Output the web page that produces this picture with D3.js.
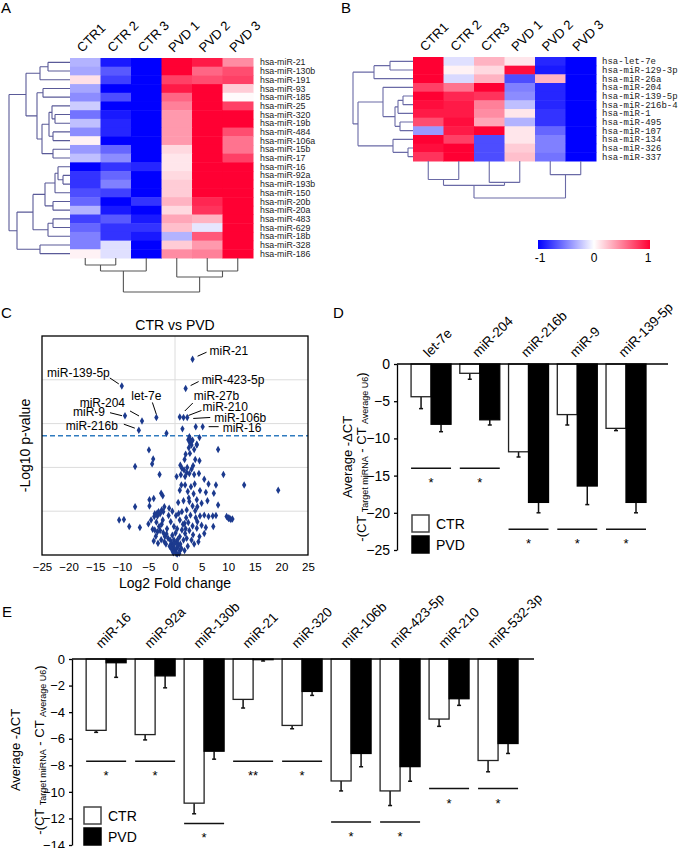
<!DOCTYPE html>
<html><head><meta charset="utf-8">
<script src="https://cdn.jsdelivr.net/npm/d3@7"></script>
<style>body{margin:0;background:#fff}svg{display:block}text{font-family:"Liberation Sans",Arial,sans-serif}</style>
</head><body>
<svg id="c" width="680" height="848"></svg>
<script>
// ---------------- DATA ----------------
const heatACols = ["CTR1","CTR 2","CTR 3","PVD 1","PVD 2","PVD 3"];
const heatARows = ["hsa-miR-21","hsa-miR-130b","hsa-miR-191","hsa-miR-93","hsa-miR-185","hsa-miR-25","hsa-miR-320","hsa-miR-19b","hsa-miR-484","hsa-miR-106a","hsa-miR-15b","hsa-miR-17","hsa-miR-16","hsa-miR-92a","hsa-miR-193b","hsa-miR-150","hsa-miR-20b","hsa-miR-20a","hsa-miR-483","hsa-miR-629","hsa-miR-18b","hsa-miR-328","hsa-miR-186"];
const heatAValues = [
 [-0.3,-0.9,-1,1,0.9,0.45],[-0.35,-0.65,-1,1,0.6,0.7],[0.12,-0.75,-1,0.75,0.7,0.75],[-0.35,-1,-1,0.9,1,0.2],
 [-0.45,-0.7,-1,0.6,1,0.02],[-0.2,-1,-1,0.5,1,0.75],[-0.55,-0.9,-1,0.4,1,1],[-0.25,-0.85,-1,0.4,1,1],
 [-0.45,-0.85,-1,0.4,1,0.7],[0.05,-1,-1,0.4,1,0.55],[-0.4,-0.6,-1,0.15,1,0.55],[-0.25,-0.45,-1,0.1,1,0.75],
 [-1,-0.8,-0.85,0.1,1,1],[-0.8,-0.6,-1,0.15,1,1],[-0.8,-0.5,-1,0.2,1,1],[-0.7,-0.75,-1,0.2,1,1],
 [-0.6,-1,-0.8,0.3,0.85,1],[-0.3,-0.9,-1,0.15,0.8,1],[-0.75,-0.65,-0.9,0.35,0.3,1],[-0.6,-0.8,-0.8,0.25,-0.1,1],
 [-0.5,-0.8,-0.9,-0.3,0.65,1],[-0.5,-0.12,-1,0.2,0.4,1],[0.05,-0.12,-1,0.45,0.5,1]];
// dendrograms: {h: merge height, c: children}, leaves are row/column indices
const heatARowTree = {h:61,c:[
  {h:44,c:[{h:30,c:[{h:22,c:[0,1]},2]},
           {h:33,c:[{h:27,c:[3,4]},{h:28,c:[{h:21,c:[{h:18,c:[5,{h:15,c:[6,7]}]},{h:17,c:[8,9]}]},{h:17,c:[10,11]}]}]}]},
  {h:53,c:[{h:37,c:[{h:25,c:[{h:15,c:[{h:12,c:[12,{h:7,c:[13,14]}]},15]},{h:17,c:[16,17]}]},{h:22,c:[{h:17,c:[18,19]},20]}]},
           {h:30,c:[21,22]}]}]};
const heatAColTree = {h:34,c:[{h:13,c:[{h:7,c:[0,1]},2]},{h:19,c:[3,{h:13,c:[4,5]}]}]};

const heatBCols = ["CTR1","CTR 2","CTR3","PVD 1","PVD 2","PVD 3"];
const heatBRows = ["hsa-let-7e","hsa-miR-129-3p","hsa-miR-26a","hsa-miR-204","hsa-miR-139-5p","hsa-miR-216b-4","hsa-miR-1","hsa-miR-495","hsa-miR-107","hsa-miR-134","hsa-miR-326","hsa-miR-337"];
const heatBValues = [
 [1,-0.12,0.3,0.1,-0.85,-1],[1,0.05,0.15,0.95,-0.9,-1],[1,-0.15,0.3,-0.7,0.3,-1],[0.75,0.55,1,-0.5,-0.85,-1],
 [1,0.85,0.8,-0.45,-0.85,-1],[0.95,0.9,0.5,-0.25,-0.85,-1],[0.9,0.9,0.45,0.1,-0.8,-1],[0.7,0.95,0.35,-0.3,-0.8,-1],
 [-0.4,0.9,1,0.1,-0.6,-1],[1,0.75,-0.7,0.1,-0.5,-1],[0.95,1,-0.7,0.2,-0.5,-1],[0.8,1,-0.7,0.25,-0.55,-1]];
const heatBRowTree = {h:60,c:[{h:39,c:[{h:23,c:[0,1]},2]},
  {h:55,c:[{h:30,c:[3,{h:18,c:[{h:15,c:[{h:10,c:[4,5]},6]},{h:13,c:[7,8]}]}]},{h:20,c:[9,{h:5,c:[10,11]}]}]}]};
const heatBColTree = {h:38,c:[{h:25,c:[{h:19,c:[0,1]},{h:22,c:[2,3]}]},{h:14,c:[4,5]}]};
const legendTicks = [-1,0,1];

// Volcano: [log2 fold change, -log10 p]
const volcanoPoints = [
 [-1.6,2.78],[1.4,2.88],[4.6,2.68],[2.5,2.63],[2.8,2.56],[3.1,2.59],[4.1,2.53],[2.9,2.63],[3.1,2.51],[2.8,2.32],[3.6,2.41],[4.1,2.51],
 [-4.9,2.40],[-4.1,2.19],[-4.3,2.08],[-7.5,2.02],[-2.9,1.84],[8.1,2.41],[9.1,1.84],[13.0,1.60],[19.4,1.48],[-7.5,1.10],
 [-10.5,0.80],[-9.6,0.81],[-8.6,0.65],[-6.6,0.63],[-4.8,1.12],[-4.8,1.26],[-4.0,1.29],[-2.6,1.41],[-2.3,1.35],[-2.0,1.10],[-5.0,0.71],
 [-3.9,0.88],[-3.4,0.95],[-3.1,0.99],[-2.5,1.03],[-2.2,0.99],[-3.8,0.94],[-3.3,0.89],[-2.8,0.94],[-1.1,1.07],[-0.8,0.76],
 [-4.2,0.59],[-3.8,0.57],[-3.3,0.53],[-2.8,0.56],[-2.2,0.51],[-1.6,0.48],[-1.9,0.42],[-1.3,0.38],[-0.9,0.34],[-3.6,0.43],
 [-0.6,0.27],[-0.3,0.19],[0,0.11],[0.3,0.15],[-0.4,0.08],[-0.2,0.34],[0.6,0.23],[-0.8,0.19],
 [1.8,2.18],[3.8,2.18],[4.6,2.15],[1.3,1.98],[1.7,1.94],[2.2,1.88],[3.4,2.04],[3.1,1.96],
 [0.3,1.79],[1.1,1.83],[1.9,1.79],[2.7,1.86],[3.6,1.84],[4.5,1.86],[5.5,1.73],[6.3,1.62],[7.7,1.60],
 [0.9,1.48],[1.9,1.60],[2.4,1.45],[3.0,1.56],[3.7,1.62],[4.7,1.47],[5.8,1.43],[7.3,1.41],
 [1.6,1.24],[2.7,1.22],[3.3,1.12],[4.1,1.26],[5.0,1.18],[6.1,1.24],[8.1,1.14],
 [1.3,0.99],[2.2,1.03],[2.9,0.91],[3.8,1.01],[4.7,0.89],[5.5,0.91],[6.3,0.88],[7.1,0.89],[7.7,0.90],
 [9.7,0.88],[10.1,0.83],[10.5,0.81],[10.8,0.82],[10.0,0.85],[10.3,0.84],
 [0.9,0.80],[1.8,0.72],[2.5,0.74],[3.3,0.66],[4.2,0.76],[5.0,0.68],[5.8,0.63],[7.2,0.65],[4.1,0.61],
 [1.3,0.57],[1.9,0.49],[2.7,0.56],[3.4,0.46],[4.6,0.42],[5.5,0.49],[3.1,0.34],[2.2,0.38],[1.6,0.34],[0.9,0.42],
 [0.3,0.30],[0.6,0.21],[0.9,0.11],[0.2,0.04],[-0.3,0.05],[0.8,0.04],
 [0.1,0.5],[0.4,0.6],[-0.5,0.45],[0.2,0.9],[0.7,0.95],[-0.2,0.65],[0.5,0.35],[1.0,0.25],[-0.7,0.15],[0.4,0.02],
 [-0.1,0.25],[1.2,0.15],[1.5,0.7],[2.0,0.6],[2.4,0.2],[1.8,0.1],[3.6,0.25],[4.4,0.3],[2.6,1.3],[3.5,1.4],
 [1.2,1.6],[0.6,1.2],[1.0,2.05],[2.0,2.3],[2.3,2.0],[4.2,1.1],[3.9,0.85],[2.1,0.85],[-1.5,0.6],[-2.5,0.7],
 [-3.0,0.65],[-1.2,0.9],[-0.5,1.0],[-2.0,0.3],[-1.0,0.2],[-4.5,0.8],[-3.5,0.75],[-2.3,0.8],[-1.7,0.25],[-2.6,0.35],
 [-3.2,0.27],[-4.0,0.32],[2.6,2.45],[2.7,2.7],[3.3,2.62]];
const volcanoLabelled = [
 {name:"miR-21",x:3.3,y:4.47},{name:"miR-423-5p",x:2.0,y:3.80},{name:"miR-139-5p",x:-10.0,y:3.86},
 {name:"let-7e",x:-3.5,y:3.14},{name:"miR-204",x:-6.2,y:3.06},{name:"miR-9",x:-9.4,y:3.18},
 {name:"miR-216b",x:-6.8,y:2.85},{name:"miR-27b",x:0.9,y:3.15},{name:"miR-210",x:1.6,y:3.14},
 {name:"miR-106b",x:2.3,y:3.14},{name:"miR-16",x:5.2,y:2.93}];
const extraSig = [[3.9,2.93]];
const volcanoThreshold = 2.72;
const volcanoXTicks = [-25,-20,-15,-10,-5,0,5,10,15,20,25];
const volcanoGrid = [1,2,3,4];

const dCats = ["let-7e","miR-204","miR-216b","miR-9","miR-139-5p"];
const dCTR = [-4.4,-1.25,-11.8,-6.8,-8.65];
const dCTRErr = [1.6,0.8,0.7,1.4,0.3];
const dPVD = [-8.1,-7.5,-18.6,-16.4,-18.6];
const dPVDErr = [1.0,0.7,1.4,2.5,1.4];
const dSig = [-14,-14,-22.2,-22.2,-22.2];
const dSigMark = ["*","*","*","*","*"];
const dTicks = [0,-5,-10,-15,-20,-25];

const eCats = ["miR-16","miR-92a","miR-130b","miR-21","miR-320","miR-106b","miR-423-5p","miR-210","miR-532-3p"];
const eCTR = [-5.37,-5.69,-10.85,-3.04,-5.0,-9.18,-9.93,-4.52,-7.64];
const eCTRErr = [0.15,0.4,0.8,0.65,0.25,0.75,1.1,0.55,0.85];
const ePVD = [-0.28,-1.27,-6.94,-0.05,-2.44,-7.11,-8.1,-2.99,-6.36];
const ePVDErr = [1.1,0.9,0.6,0.1,0.3,1.0,1.1,0.5,0.75];
const eSig = [-7.7,-7.7,-12.38,-7.7,-7.7,-12.26,-12.26,-9.75,-9.75];
const eSigMark = ["*","*","*","**","*","*","*","*","*"];
const eTicks = [0,-2,-4,-6,-8,-10,-12,-14];

// ---------------- DRAW ----------------
const svg = d3.select("#c");
const FONT = '"Liberation Sans",Arial,sans-serif';
const MONO = '"Liberation Mono","Courier New",monospace';
const color = d3.scaleLinear().domain([-1,0,1]).range(["#0000ff","#ffffff","#ff0033"]);

function panelLabel(t,x,y){svg.append("text").attr("x",x).attr("y",y).attr("font-size",15).text(t);}
panelLabel("A",1,13);panelLabel("B",341,13);panelLabel("C",1,318);panelLabel("D",333,318);panelLabel("E",2,617);

function heatmap(o){
  const g = svg.append("g");
  const x = d3.scaleBand().domain(d3.range(o.cols.length)).range(o.xr);
  const y = d3.scaleBand().domain(d3.range(o.rows.length)).range(o.yr);
  o.vals.forEach((row,i)=>row.forEach((v,j)=>{
    g.append("rect").attr("x",x(j)).attr("y",y(i)).attr("width",x.bandwidth()+0.5).attr("height",y.bandwidth()+0.5).attr("fill",color(v));
  }));
  o.rows.forEach((r,i)=>g.append("text").attr("x",o.xr[1]+o.labGap).attr("y",y(i)+y.bandwidth()/2).attr("dy","0.35em")
     .attr("font-size",o.rowFont).style("font-family",o.rowFamily).attr("fill","#222").text(r));
  o.cols.forEach((c,j)=>g.append("text").attr("transform",`translate(${x(j)+x.bandwidth()/2-3},${o.yr[0]-5}) rotate(-45)`)
     .attr("font-size",13).text(c));
  drawTree(g,o.rowTree,i=>y(i)+y.bandwidth()/2,d3.scaleLinear().domain([0,o.rowTree.h]).range([o.xr[0],o.rowDendroX]),true,o.rowStroke);
  drawTree(g,o.colTree,j=>x(j)+x.bandwidth()/2,d3.scaleLinear().domain([0,o.colTree.h]).range([o.yr[1],o.colDendroY]),false,o.colStroke);
}
function drawTree(g,tree,posOf,hs,horiz,stroke){
  const root = d3.hierarchy(tree,d=>typeof d==="number"?null:d.c);
  root.eachAfter(n=>{
    if(!n.children){n.pos=posOf(n.data);n.hh=0;}
    else{n.pos=(n.children[0].pos+n.children[n.children.length-1].pos)/2;n.hh=n.data.h;}
  });
  const P=(h,p)=>horiz?[hs(h),p]:[p,hs(h)];
  let d="";
  root.each(n=>{
    if(!n.children)return;
    const a=P(n.hh,n.children[0].pos),b=P(n.hh,n.children[n.children.length-1].pos);
    d+=`M${a}L${b}`;
    n.children.forEach(c=>{const s=P(n.hh,c.pos),e=P(c.hh,c.pos);d+=`M${s}L${e}`;});
  });
  g.append("path").attr("d",d).attr("fill","none").attr("stroke",stroke).attr("stroke-width",1.1);
}
heatmap({cols:heatACols,rows:heatARows,vals:heatAValues,xr:[70,253],yr:[58,258],labGap:7,rowFont:8.8,rowFamily:FONT,
  rowTree:heatARowTree,colTree:heatAColTree,rowDendroX:9,colDendroY:292,rowStroke:"#5a5a98",colStroke:"#555"});
heatmap({cols:heatBCols,rows:heatBRows,vals:heatBValues,xr:[413,596],yr:[57,161],labGap:6,rowFont:9,rowFamily:MONO,
  rowTree:heatBRowTree,colTree:heatBColTree,rowDendroX:353,colDendroY:198,rowStroke:"#6a6aa6",colStroke:"#6a6aa6"});

// color legend
{
  const defs=svg.append("defs");
  const gr=defs.append("linearGradient").attr("id","lg");
  d3.range(0,1.01,0.1).forEach(t=>gr.append("stop").attr("offset",t).attr("stop-color",color(-1+2*t)));
  const lx=d3.scaleLinear().domain([-1,1]).range([538,650]);
  svg.append("rect").attr("x",lx(-1)).attr("y",240).attr("width",lx(1)-lx(-1)).attr("height",9).attr("fill","url(#lg)");
  legendTicks.forEach(t=>svg.append("text").attr("x",lx(t)+(t===-1?2:(t===1?-2:0))).attr("y",262).attr("text-anchor","middle").attr("font-size",12).text(t));
}

// ---------------- Volcano ----------------
{
  const g=svg.append("g");
  const x=d3.scaleLinear().domain([-25,25]).range([42,308]);
  const y=d3.scaleLinear().domain([0,5]).range([555,336]);
  volcanoGrid.forEach(v=>g.append("line").attr("x1",x(-25)).attr("x2",x(25)).attr("y1",y(v)).attr("y2",y(v)).attr("stroke","#dcdcdc").attr("stroke-width",1));
  g.append("line").attr("x1",x(0)).attr("x2",x(0)).attr("y1",y(0)).attr("y2",y(5)).attr("stroke","#dcdcdc");
  g.append("line").attr("x1",x(-25)).attr("x2",x(25)).attr("y1",y(volcanoThreshold)).attr("y2",y(volcanoThreshold))
   .attr("stroke","#2f7bbf").attr("stroke-width",1.5).attr("stroke-dasharray","5,3");
  const sym=d3.symbol().type(d3.symbolDiamond).size(16);
  const all=volcanoPoints.concat(extraSig).concat(volcanoLabelled.map(d=>[d.x,d.y]));
  g.selectAll(".pt").data(all).enter().append("path").attr("d",sym).attr("transform",d=>`translate(${x(d[0])},${y(d[1])})`).attr("fill","#1c3a8e");
  g.append("rect").attr("x",x(-25)).attr("y",y(5)).attr("width",x(25)-x(-25)).attr("height",y(0)-y(5)).attr("fill","none").attr("stroke","#000").attr("stroke-width",1.3);
  const ax=g.append("g").attr("transform",`translate(0,${y(0)})`).call(d3.axisBottom(x).tickValues(volcanoXTicks).tickSize(0).tickPadding(8));
  ax.select(".domain").remove();
  ax.selectAll("text").attr("font-size",11.5).attr("fill","#000");
  g.append("text").attr("x",x(0)).attr("y",330).attr("text-anchor","middle").attr("font-size",14).text("CTR vs PVD");
  g.append("text").attr("x",x(0)).attr("y",588).attr("text-anchor","middle").attr("font-size",14).text("Log2 Fold change");
  g.append("text").attr("transform",`translate(30,${y(2.5)}) rotate(-90)`).attr("text-anchor","middle").attr("font-size",14).text("-Log10 p-value");
  const ann={
    "miR-21":{tx:17,ty:-8,a:"start",l:[5,-3,14,-7]},
    "miR-423-5p":{tx:16,ty:-9,a:"start",l:[5,-3,13,-7]},
    "miR-139-5p":{tx:-12,ty:-13,a:"end",l:[-12,-8,-3,-2]},
    "let-7e":{tx:-10,ty:-22,a:"middle",l:[-4,-15,0,-3]},
    "miR-204":{tx:-17,ty:-18,a:"end",l:[-12,-10,-3,-5]},
    "miR-9":{tx:-20,ty:-4,a:"end",l:[-15,-3,-3,0]},
    "miR-216b":{tx:-21,ty:-4,a:"end",l:[-15,-6,-4,-2]},
    "miR-27b":{tx:14,ty:-21,a:"start",l:[13,-14,5,-6]},
    "miR-210":{tx:19,ty:-11,a:"start",l:[18,-7,5,-2]},
    "miR-106b":{tx:27,ty:0,a:"start",l:[23,0,6,1]},
    "miR-16":{tx:20,ty:1,a:"start",l:[6,0,16,0]}};
  volcanoLabelled.forEach(d=>{
    const p=[x(d.x),y(d.y)],o=ann[d.name];
    g.append("line").attr("x1",p[0]+o.l[0]).attr("y1",p[1]+o.l[1]).attr("x2",p[0]+o.l[2]).attr("y2",p[1]+o.l[3]).attr("stroke","#000").attr("stroke-width",1);
    g.append("text").attr("x",p[0]+o.tx).attr("y",p[1]+o.ty).attr("dy","0.35em").attr("text-anchor",o.a).attr("font-size",12).text(d.name);
  });
}

// ---------------- Bar panels ----------------
function barPanel(o){
  const g=svg.append("g");
  const x=d3.scaleBand().domain(o.cats).range(o.xr).paddingInner(o.pi).paddingOuter(o.po).align(o.al);
  const y=d3.scaleLinear().domain(o.yd).range(o.yr);
  const half=x.bandwidth()/2;
  o.cats.forEach((c,i)=>{
    const bx=x(c);
    [[o.ctr[i],o.ctrErr[i],bx,"#fff"],[o.pvd[i],o.pvdErr[i],bx+half,"#000"]].forEach(([v,e,xx,f])=>{
      const cx=xx+half/2;
      g.append("line").attr("x1",cx).attr("x2",cx).attr("y1",y(v)).attr("y2",y(v-e)).attr("stroke","#111").attr("stroke-width",1.5);
      g.append("line").attr("x1",cx-2).attr("x2",cx+2).attr("y1",y(v-e)).attr("y2",y(v-e)).attr("stroke","#111").attr("stroke-width",1.5);
      g.append("rect").attr("x",xx).attr("y",y(0)).attr("width",half).attr("height",y(v)-y(0)).attr("fill",f).attr("stroke",f==="#fff"?"#222":"#000").attr("stroke-width",1.3);
    });
    g.append("line").attr("x1",bx).attr("x2",bx+x.bandwidth()).attr("y1",y(o.sig[i])).attr("y2",y(o.sig[i])).attr("stroke","#111").attr("stroke-width",1.5);
    g.append("text").attr("x",bx+half).attr("y",y(o.sig[i])+19).attr("text-anchor","middle").attr("font-size",13).text(o.mark[i]);
    g.append("text").attr("transform",`translate(${bx+half+o.lx},${y(0)+o.ly}) rotate(-45)`).attr("font-size",o.catFont).text(c);
  });
  const ax=g.append("g").attr("transform",`translate(${o.xr[0]},0)`).call(d3.axisLeft(y).tickValues(o.ticks).tickSize(3).tickSizeOuter(0).tickPadding(4));
  ax.select(".domain").attr("stroke","#000").attr("stroke-width",1.3);
  ax.selectAll(".tick line").attr("stroke","#000").attr("stroke-width",1.3);
  ax.selectAll(".tick text").attr("font-size",o.tickFont).attr("fill","#000");
  g.append("line").attr("x1",o.xr[0]).attr("x2",o.xr[1]).attr("y1",y(0)).attr("y2",y(0)).attr("stroke","#000").attr("stroke-width",1.3);
  [["CTR","#fff"],["PVD","#000"]].forEach(([t,f],k)=>{
    g.append("rect").attr("x",o.leg[0]).attr("y",o.leg[1]+k*21).attr("width",17).attr("height",17).attr("fill",f).attr("stroke",k?"#000":"#444").attr("stroke-width",1.5);
    g.append("text").attr("x",o.leg[0]+24).attr("y",o.leg[1]+k*21+8.5).attr("dy","0.36em").attr("font-size",14).text(t);
  });
  g.append("text").attr("transform",`translate(${o.t1x},${o.tcy}) rotate(-90)`).attr("text-anchor","middle").attr("font-size",13).text("Average -\u0394CT");
  const t2=g.append("text").attr("transform",`translate(${o.t2x},${o.tcy}) rotate(-90)`).attr("text-anchor","middle").attr("font-size",13);
  t2.append("tspan").text("-(CT ");
  t2.append("tspan").attr("font-size",9).attr("dy",1.5).text("Target miRNA");
  t2.append("tspan").attr("dy",-1.5).text(" - CT ");
  t2.append("tspan").attr("font-size",9).attr("dy",1.5).text("Average U6");
  t2.append("tspan").attr("dy",-1.5).text(")");
}
barPanel({cats:dCats,ctr:dCTR,ctrErr:dCTRErr,pvd:dPVD,pvdErr:dPVDErr,sig:dSig,mark:dSigMark,ticks:dTicks,
  yd:[-25,0],yr:[550,364],xr:[397,668],pi:0.18,po:0.37,al:0.39,lx:-2,ly:-6,catFont:13.5,tickFont:14,
  leg:[412,515],t1x:352,t2x:366,tcy:457});
barPanel({cats:eCats,ctr:eCTR,ctrErr:eCTRErr,pvd:ePVD,pvdErr:ePVDErr,sig:eSig,mark:eSigMark,ticks:eTicks,
  yd:[-14,0],yr:[845,659],xr:[72,534],pi:0.184,po:0.307,al:0.47,lx:-5,ly:-10,catFont:13.5,tickFont:13,
  leg:[84,807],t1x:20,t2x:44,tcy:750});
</script>
</body></html>
